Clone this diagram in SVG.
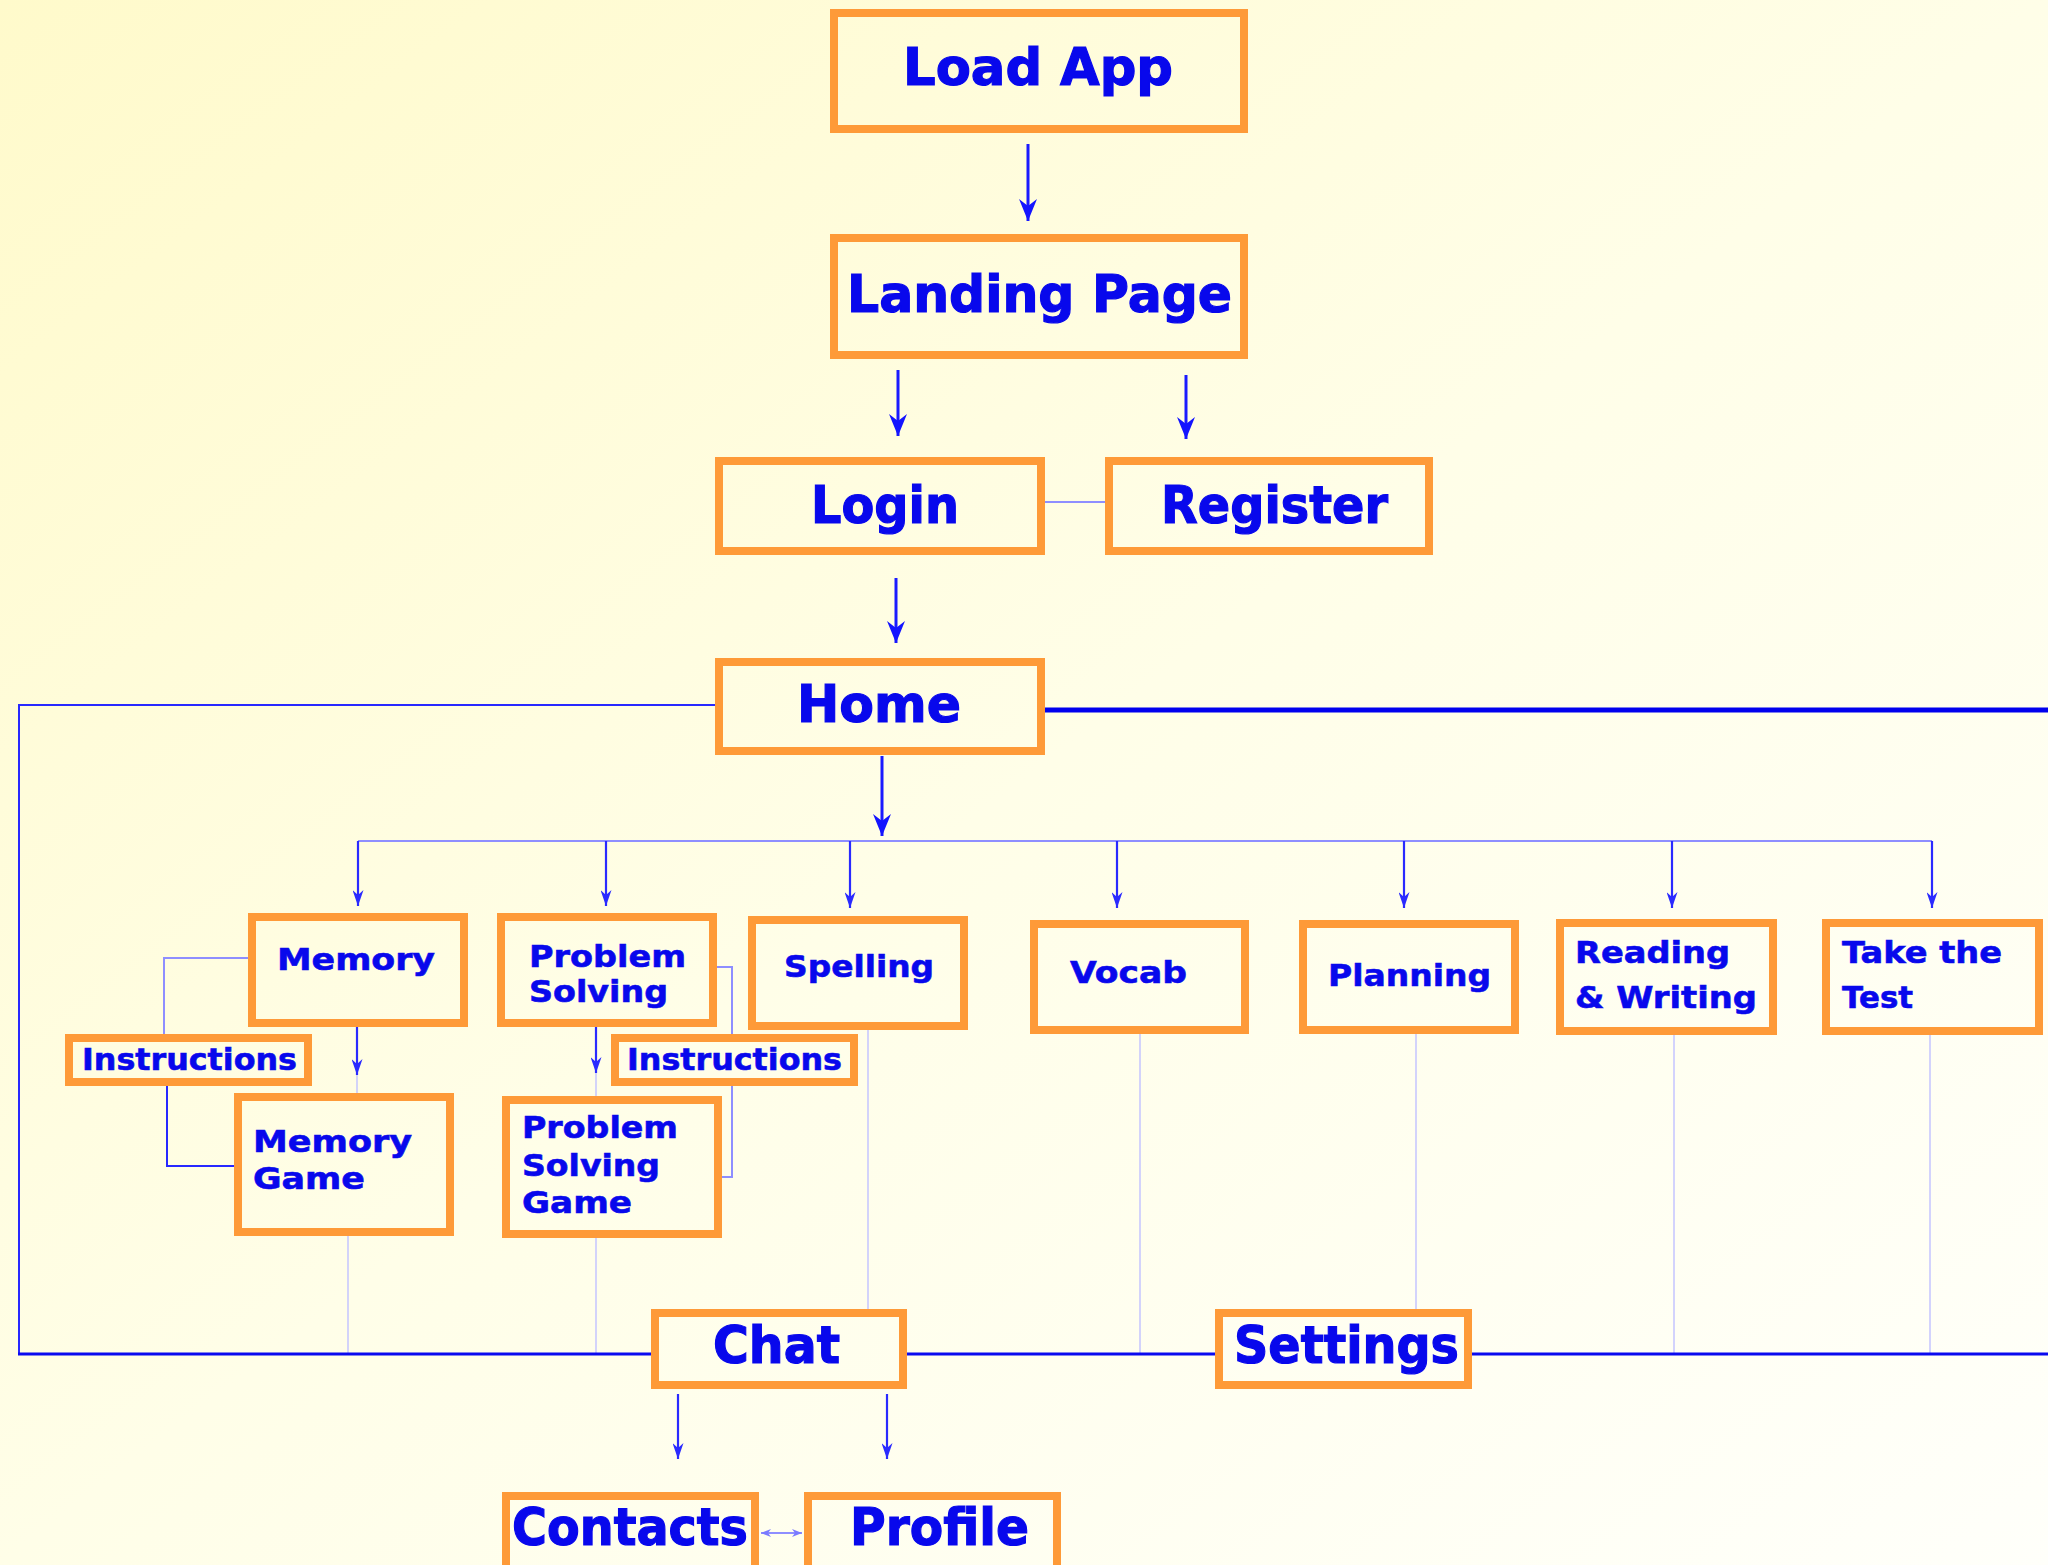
<svg xmlns="http://www.w3.org/2000/svg" width="2048" height="1565" viewBox="0 0 2048 1565">
<defs>
<linearGradient id="bg" x1="0" y1="0" x2="1" y2="1">
<stop offset="0" stop-color="#fffacb"/>
<stop offset="0.5" stop-color="#fffee8"/>
<stop offset="1" stop-color="#fffffa"/>
</linearGradient>
<marker id="ab" markerUnits="userSpaceOnUse" markerWidth="22" markerHeight="18" refX="22" refY="9" orient="auto" viewBox="0 0 22 18">
<path d="M0,0 L22,9 L0,18 L7,9 Z" fill="#1414ff"/>
</marker>
<marker id="as" markerUnits="userSpaceOnUse" markerWidth="16" markerHeight="11" refX="16" refY="5.5" orient="auto" viewBox="0 0 16 11">
<path d="M0,0 L16,5.5 L0,11 L5,5.5 Z" fill="#2a2aff"/>
</marker>
<marker id="al" markerUnits="userSpaceOnUse" markerWidth="10" markerHeight="8" refX="10" refY="4" orient="auto-start-reverse" viewBox="0 0 10 8">
<path d="M0,0 L10,4 L0,8 L3,4 Z" fill="#7a7aff"/>
</marker>
</defs>
<style>
.box{fill:none;stroke:#fe9a38;stroke-width:8}
.t{font-family:"DejaVu Sans","Liberation Sans",sans-serif;font-weight:bold;fill:#0808ec;stroke:#0808ec}
.big{font-size:51px;stroke-width:1.2}
.sm{font-size:31px;stroke-width:0.6}
.main{stroke:#1a1aff;stroke-width:3;fill:none}
.drop{stroke:#2a2aff;stroke-width:2.2;fill:none}
.light{stroke:#8e8eff;stroke-width:2;fill:none}
.faint{stroke:#c4c4ff;stroke-width:1.5;fill:none}
.med{stroke:#2828ff;stroke-width:2;fill:none}
.bus{stroke:#0a0af0;stroke-width:3;fill:none}
.thick{stroke:#0000ee;stroke-width:5;fill:none}
</style>
<rect x="0" y="0" width="2048" height="1565" fill="url(#bg)"/>

<g id="connectors">
<line class="main" x1="1028" y1="144" x2="1028" y2="221" marker-end="url(#ab)"/>
<line class="main" x1="898" y1="370" x2="898" y2="436" marker-end="url(#ab)"/>
<line class="main" x1="1186" y1="375" x2="1186" y2="439" marker-end="url(#ab)"/>
<line class="light" x1="1045" y1="502" x2="1105" y2="502"/>
<line class="main" x1="896" y1="578" x2="896" y2="643" marker-end="url(#ab)"/>
<line class="main" x1="882" y1="756" x2="882" y2="836" marker-end="url(#ab)"/>
<line class="thick" x1="1045" y1="710" x2="2048" y2="710"/>
<polyline class="med" points="715,705 19,705 19,1354"/>
<line class="light" x1="358" y1="841" x2="1932" y2="841"/>
<line class="drop" x1="358" y1="841" x2="358" y2="906" marker-end="url(#as)"/>
<line class="drop" x1="606" y1="841" x2="606" y2="906" marker-end="url(#as)"/>
<line class="drop" x1="850" y1="841" x2="850" y2="908" marker-end="url(#as)"/>
<line class="drop" x1="1117" y1="841" x2="1117" y2="908" marker-end="url(#as)"/>
<line class="drop" x1="1404" y1="841" x2="1404" y2="908" marker-end="url(#as)"/>
<line class="drop" x1="1672" y1="841" x2="1672" y2="908" marker-end="url(#as)"/>
<line class="drop" x1="1932" y1="841" x2="1932" y2="908" marker-end="url(#as)"/>
<polyline class="light" points="248,958 164,958 164,1034"/>
<polyline class="med" points="167,1086 167,1166 234,1166"/>
<line class="drop" x1="357" y1="1027" x2="357" y2="1075" marker-end="url(#as)"/>
<line class="faint" x1="357" y1="1075" x2="357" y2="1093"/>
<line class="drop" x1="596" y1="1027" x2="596" y2="1073" marker-end="url(#as)"/>
<line class="faint" x1="596" y1="1073" x2="596" y2="1096"/>
<polyline class="light" points="717,967 732,967 732,1034"/>
<polyline class="light" points="732,1086 732,1177 722,1177"/>
<line class="faint" x1="348" y1="1236" x2="348" y2="1354"/>
<line class="faint" x1="596" y1="1238" x2="596" y2="1354"/>
<line class="faint" x1="868" y1="1030" x2="868" y2="1309"/>
<line class="faint" x1="1140" y1="1034" x2="1140" y2="1354"/>
<line class="faint" x1="1416" y1="1034" x2="1416" y2="1309"/>
<line class="faint" x1="1674" y1="1035" x2="1674" y2="1354"/>
<line class="faint" x1="1930" y1="1035" x2="1930" y2="1354"/>
<line class="bus" x1="18" y1="1354" x2="651" y2="1354"/>
<line class="bus" x1="907" y1="1354" x2="1215" y2="1354"/>
<line class="bus" x1="1472" y1="1354" x2="2048" y2="1354"/>
<line class="drop" x1="678" y1="1394" x2="678" y2="1459" marker-end="url(#as)"/>
<line class="drop" x1="887" y1="1394" x2="887" y2="1459" marker-end="url(#as)"/>
<line class="light" x1="761" y1="1533" x2="802" y2="1533" marker-start="url(#al)" marker-end="url(#al)"/>
</g>

<g id="load-app"><rect class="box" x="834" y="13" width="410" height="116"/><text class="t big" x="903" y="85" textLength="270" lengthAdjust="spacingAndGlyphs">Load App</text></g>
<g id="landing-page"><rect class="box" x="834" y="238" width="410" height="117"/><text class="t big" x="847" y="312" textLength="385" lengthAdjust="spacingAndGlyphs">Landing Page</text></g>
<g id="login"><rect class="box" x="719" y="461" width="322" height="90"/><text class="t big" x="811" y="523" textLength="148" lengthAdjust="spacingAndGlyphs">Login</text></g>
<g id="register"><rect class="box" x="1109" y="461" width="320" height="90"/><text class="t big" x="1161" y="523" textLength="227" lengthAdjust="spacingAndGlyphs">Register</text></g>
<g id="home"><rect class="box" x="719" y="662" width="322" height="89"/><text class="t big" x="797" y="722" textLength="164" lengthAdjust="spacingAndGlyphs">Home</text></g>
<g id="memory"><rect class="box" x="252" y="917" width="212" height="106"/><text class="t sm" x="277" y="970" textLength="158" lengthAdjust="spacingAndGlyphs">Memory</text></g>
<g id="problem-solving"><rect class="box" x="501" y="917" width="212" height="106"/><text class="t sm" x="529" y="967" textLength="157" lengthAdjust="spacingAndGlyphs">Problem</text><text class="t sm" x="529" y="1002" textLength="139" lengthAdjust="spacingAndGlyphs">Solving</text></g>
<g id="spelling"><rect class="box" x="752" y="920" width="212" height="106"/><text class="t sm" x="784" y="977" textLength="150" lengthAdjust="spacingAndGlyphs">Spelling</text></g>
<g id="vocab"><rect class="box" x="1034" y="924" width="211" height="106"/><text class="t sm" x="1070" y="983" textLength="117" lengthAdjust="spacingAndGlyphs">Vocab</text></g>
<g id="planning"><rect class="box" x="1303" y="924" width="212" height="106"/><text class="t sm" x="1328" y="986" textLength="163" lengthAdjust="spacingAndGlyphs">Planning</text></g>
<g id="reading-writing"><rect class="box" x="1560" y="923" width="213" height="108"/><text class="t sm" x="1575" y="963" textLength="155" lengthAdjust="spacingAndGlyphs">Reading</text><text class="t sm" x="1575" y="1008" textLength="182" lengthAdjust="spacingAndGlyphs">&amp; Writing</text></g>
<g id="take-the-test"><rect class="box" x="1826" y="923" width="213" height="108"/><text class="t sm" x="1842" y="963" textLength="160" lengthAdjust="spacingAndGlyphs">Take the</text><text class="t sm" x="1842" y="1008" textLength="71" lengthAdjust="spacingAndGlyphs">Test</text></g>
<g id="instructions-memory"><rect class="box" x="69" y="1038" width="239" height="44"/><text class="t sm" x="82" y="1070" textLength="215" lengthAdjust="spacingAndGlyphs">Instructions</text></g>
<g id="instructions-problem"><rect class="box" x="615" y="1038" width="239" height="44"/><text class="t sm" x="627" y="1070" textLength="215" lengthAdjust="spacingAndGlyphs">Instructions</text></g>
<g id="memory-game"><rect class="box" x="238" y="1097" width="212" height="135"/><text class="t sm" x="253" y="1152" textLength="159" lengthAdjust="spacingAndGlyphs">Memory</text><text class="t sm" x="253" y="1189" textLength="112" lengthAdjust="spacingAndGlyphs">Game</text></g>
<g id="problem-solving-game"><rect class="box" x="506" y="1100" width="212" height="134"/><text class="t sm" x="522" y="1138" textLength="156" lengthAdjust="spacingAndGlyphs">Problem</text><text class="t sm" x="522" y="1176" textLength="138" lengthAdjust="spacingAndGlyphs">Solving</text><text class="t sm" x="522" y="1213" textLength="110" lengthAdjust="spacingAndGlyphs">Game</text></g>
<g id="chat"><rect class="box" x="655" y="1313" width="248" height="72"/><text class="t big" x="713" y="1363" textLength="127" lengthAdjust="spacingAndGlyphs">Chat</text></g>
<g id="settings"><rect class="box" x="1219" y="1313" width="249" height="72"/><text class="t big" x="1234" y="1363" textLength="225" lengthAdjust="spacingAndGlyphs">Settings</text></g>
<g id="contacts"><rect class="box" x="506" y="1496" width="249" height="100"/><text class="t big" x="512" y="1545" textLength="236" lengthAdjust="spacingAndGlyphs">Contacts</text></g>
<g id="profile"><rect class="box" x="808" y="1496" width="249" height="100"/><text class="t big" x="850" y="1545" textLength="179" lengthAdjust="spacingAndGlyphs">Profile</text></g>
</svg>
